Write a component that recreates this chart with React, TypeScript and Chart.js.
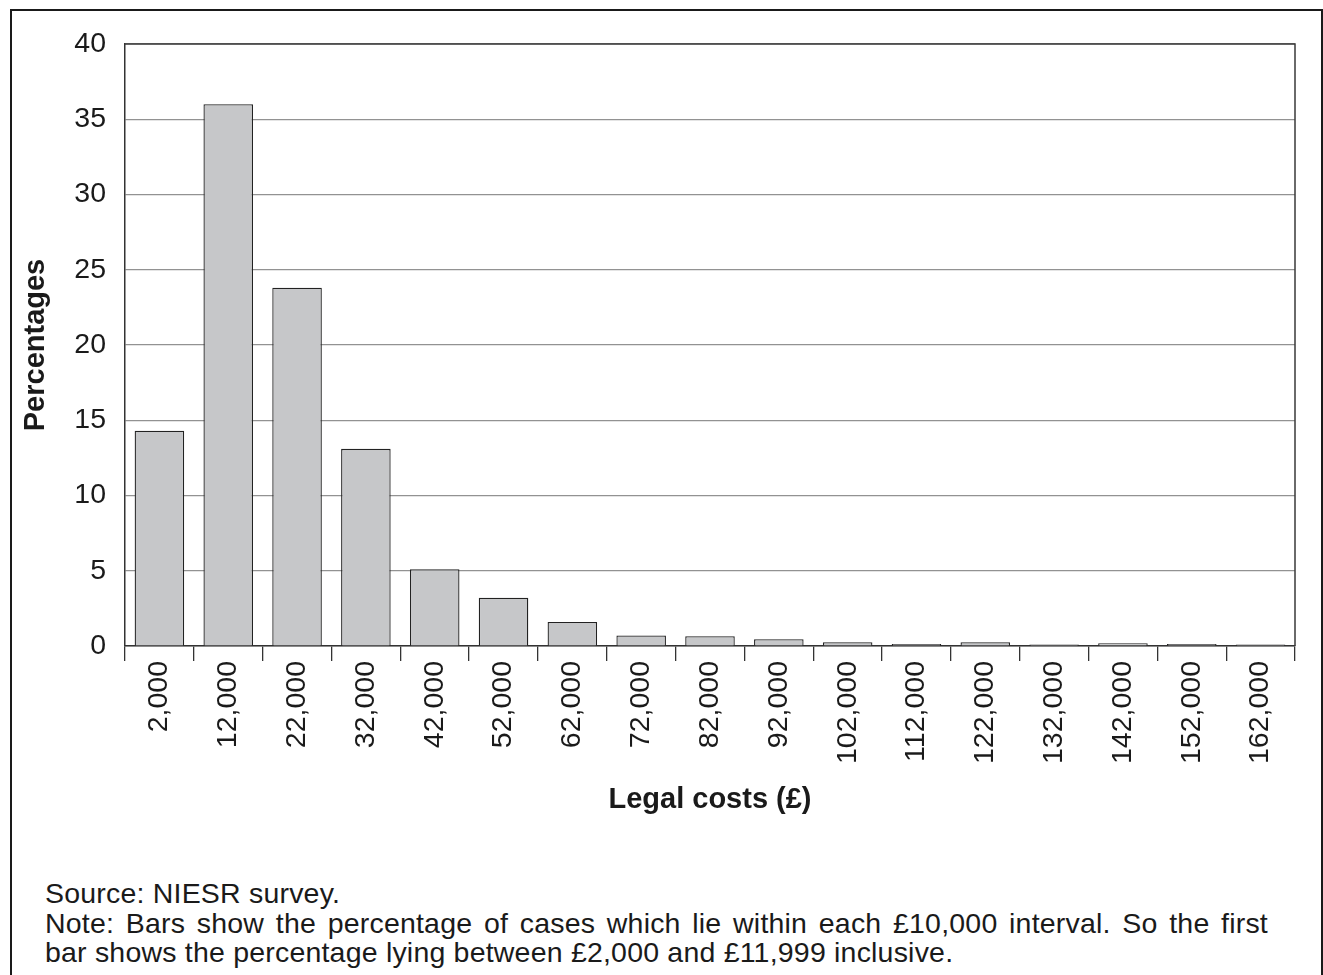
import React, { useEffect, useRef } from "react";
import { Chart, registerables } from "chart.js";

Chart.register(...registerables);

const categories: string[] = [
  "2,000", "12,000", "22,000", "32,000", "42,000", "52,000", "62,000", "72,000", "82,000",
  "92,000", "102,000", "112,000", "122,000", "132,000", "142,000", "152,000", "162,000",
];
const percentages: number[] = [
  14.3, 36.0, 23.8, 13.1, 5.1, 3.2, 1.6, 0.7, 0.65, 0.45, 0.25, 0.13, 0.25, 0.1, 0.18, 0.13, 0.1,
];
const yTicks: number[] = [0, 5, 10, 15, 20, 25, 30, 35, 40];
const yTitle = "Percentages";
const xTitle = "Legal costs (£)";
const sourceText = "Source: NIESR survey.";
const noteLine1 =
  "Note: Bars show the percentage of cases which lie within each £10,000 interval. So the first";
const noteLine2 = "bar shows the percentage lying between £2,000 and £11,999 inclusive.";

const FONT = "'Liberation Sans', Arial, Helvetica, sans-serif";

const frameBox = {
  id: "frameBox",
  afterDatasetsDraw(chart: any) {
    const { ctx, chartArea } = chart;
    ctx.save();
    ctx.strokeStyle = "#3a3a3a";
    ctx.lineWidth = 1.5;
    ctx.beginPath();
    ctx.moveTo(chartArea.left, chartArea.top);
    ctx.lineTo(chartArea.right, chartArea.top);
    ctx.lineTo(chartArea.right, chartArea.bottom);
    ctx.stroke();
    ctx.restore();
  },
};

export default function App() {
  const canvasRef = useRef<HTMLCanvasElement | null>(null);

  useEffect(() => {
    if (!canvasRef.current) return;
    const chart = new Chart(canvasRef.current, {
      type: "bar",
      data: {
        labels: categories,
        datasets: [
          {
            data: percentages,
            backgroundColor: "#c6c7c9",
            borderColor: "#222222",
            borderWidth: 1.3,
            barPercentage: 0.72,
            categoryPercentage: 1,
          },
        ],
      },
      options: {
        animation: false,
        responsive: false,
        devicePixelRatio: 1,
        layout: { padding: { left: 0, top: 44, right: 28, bottom: 0 } },
        plugins: {
          legend: { display: false },
          tooltip: { enabled: false },
        },
        scales: {
          x: {
            grid: {
              display: true,
              drawOnChartArea: false,
              drawTicks: true,
              tickLength: 15,
              offset: true,
              color: "#333333",
              lineWidth: 1.3,
            },
            border: { display: true, color: "#333333", width: 1.5 },
            ticks: {
              minRotation: 90,
              maxRotation: 90,
              autoSkip: false,
              padding: 0,
              color: "#1a1a1a",
              font: { family: FONT, size: 28.5 },
            },
            title: {
              display: true,
              text: xTitle,
              color: "#1a1a1a",
              font: { family: FONT, size: 29, weight: "bold" },
              padding: { top: 0, bottom: 13 },
            },
            afterFit(scale: any) {
              scale.height = 184;
            },
          },
          y: {
            min: 0,
            max: 40,
            afterBuildTicks(scale: any) {
              scale.ticks = yTicks.map((v) => ({ value: v }));
            },
            grid: {
              color: "#929292",
              lineWidth: 1.2,
              drawTicks: false,
            },
            border: { display: true, color: "#333333", width: 1.5 },
            ticks: {
              padding: 19,
              color: "#1a1a1a",
              font: { family: FONT, size: 28.5 },
            },
            title: {
              display: true,
              text: yTitle,
              color: "#1a1a1a",
              font: { family: FONT, size: 29, weight: "bold" },
              padding: { top: 19, bottom: 0 },
            },
            afterFit(scale: any) {
              scale.width = 125;
            },
          },
        },
      },
      plugins: [frameBox],
    });
    return () => chart.destroy();
  }, []);

  const textStyle: React.CSSProperties = {
    position: "absolute",
    left: 45,
    fontFamily: FONT,
    fontSize: 28.5,
    lineHeight: "29.5px",
    letterSpacing: "0.2px",
    color: "#1a1a1a",
    whiteSpace: "nowrap",
  };

  return (
    <div
      style={{
        position: "absolute",
        left: 0,
        top: 0,
        width: 1323,
        height: 975,
        overflow: "hidden",
        background: "#ffffff",
      }}
    >
      <div
        style={{
          position: "absolute",
          left: 10,
          top: 9,
          width: 1313,
          height: 1010,
          border: "2px solid #1a1a1a",
          boxSizing: "border-box",
        }}
      />
      <canvas
        ref={canvasRef}
        width={1323}
        height={830}
        style={{ position: "absolute", left: 0, top: 0, width: 1323, height: 830 }}
      />
      <div style={{ ...textStyle, top: 878.5 }}>{sourceText}</div>
      <div
        style={{
          ...textStyle,
          top: 908.5,
          width: 1223,
          whiteSpace: "normal",
          textAlign: "justify",
          textAlignLast: "justify",
        }}
      >
        {noteLine1}
      </div>
      <div style={{ ...textStyle, top: 937.5 }}>{noteLine2}</div>
    </div>
  );
}
